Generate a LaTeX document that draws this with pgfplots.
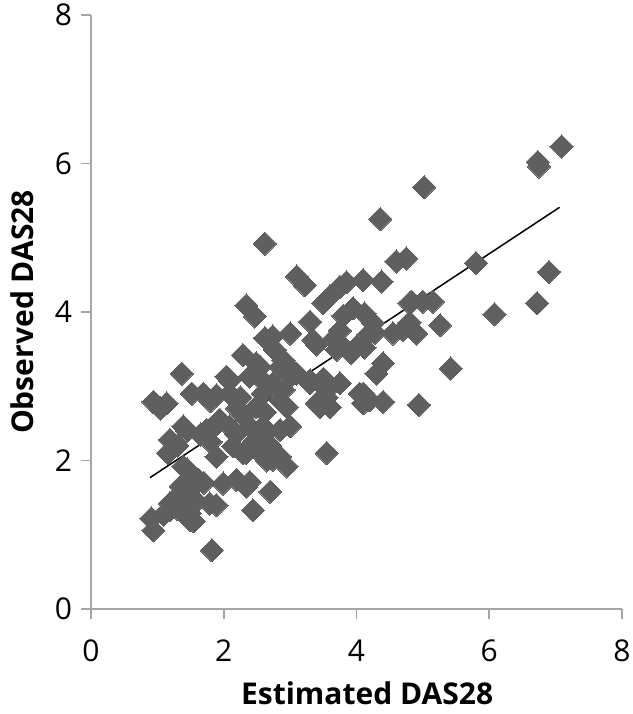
\documentclass[border=0pt]{standalone}
\usepackage{pgfplots}
\pgfplotsset{compat=1.18}
\usepackage{fontspec}
\setmainfont{Open Sans}
\definecolor{markgray}{HTML}{5F5F5F}
\definecolor{axgray}{HTML}{A6A6A6}
\begin{document}
\begin{tikzpicture}
\begin{axis}[
  scale only axis,
  width=265.5pt, height=297pt,
  xmin=0, xmax=8, ymin=0, ymax=8,
  xtick={0,2,4,6,8}, ytick={0,2,4,6,8},
  axis x line*=bottom, axis y line*=left,
  axis line style={axgray, line width=1pt},
  tick style={axgray, line width=0.8pt},
  tick align=outside, major tick length=5pt,
  /pgf/number format/assume math mode=true,
  ticklabel style={font=\fontsize{15}{17}\selectfont, text=black},
  xticklabel style={yshift=-7pt},
  yticklabel style={xshift=-1pt},
  xlabel={Estimated DAS28}, ylabel={Observed DAS28},
  every axis x label/.style={at={(axis description cs:0.52,-0.1414)}, anchor=center,
    font=\fontsize{15}{17}\selectfont\bfseries},
  every axis y label/.style={at={(axis description cs:-0.13,0.5)}, rotate=90, anchor=center,
    font=\fontsize{15}{17}\selectfont\bfseries},
  clip=false,
]
\addplot[only marks, color=markgray, mark=square*, mark size=4.1pt,
  mark options={rotate=45, fill=markgray, draw=markgray, line width=0pt}] coordinates {
(0.94,1.06)(0.91,1.22)(1.09,1.27)(1.19,1.33)(1.19,1.42)(1.25,1.47)(1.30,1.35)
(1.35,1.50)(1.40,1.55)(1.44,1.56)(1.49,1.20)(1.55,1.18)(1.49,1.29)(1.59,1.45)
(1.62,1.74)(1.70,1.70)(1.79,1.42)(1.89,1.40)(1.82,0.79)(1.39,1.92)(1.45,1.88)
(1.55,1.65)(1.35,1.65)
(0.94,2.79)(1.14,2.77)(1.05,2.70)(1.37,3.17)(1.52,2.90)(1.69,2.90)(1.89,2.88)
(1.80,2.80)(1.39,2.46)(1.19,2.28)(1.16,2.10)(1.30,2.20)(1.45,2.40)(1.74,2.41)
(1.94,2.55)(1.85,2.45)(1.80,2.25)(1.89,2.05)(1.65,2.35)
(2.04,3.13)(2.09,3.08)(2.39,3.13)(2.29,3.42)(2.49,3.31)(2.34,4.09)(2.47,3.94)
(2.09,2.90)(2.25,2.85)(2.20,2.70)(2.09,2.46)(2.14,2.19)(2.34,2.10)(2.55,2.14)
(2.19,2.36)(2.39,2.46)(2.59,2.46)(2.30,2.60)(1.99,1.69)(2.19,1.74)(2.39,1.71)
(2.34,1.65)(2.44,1.33)(2.70,1.58)(2.95,1.92)(2.74,2.01)(2.29,2.10)(2.55,2.10)
(2.85,2.41)(3.00,2.46)(2.85,2.05)(2.65,2.00)(2.62,2.65)(2.59,2.90)(2.85,2.81)
(2.49,2.72)(2.95,2.72)(2.62,3.05)(2.62,3.65)(2.74,3.67)(3.00,3.71)(2.55,3.26)
(2.85,3.26)(2.74,3.04)(2.77,3.49)(2.90,3.35)(3.00,3.13)(2.90,2.95)(3.05,3.20)
(2.45,2.25)(2.60,2.35)(2.70,2.20)(2.62,4.92)
(3.10,4.48)(3.22,4.36)(3.30,3.87)(3.40,3.56)(3.30,3.08)(3.55,2.95)(3.40,2.77)
(3.60,2.72)(3.75,3.04)(3.50,3.10)(3.55,2.85)(3.45,2.72)(3.55,2.10)(3.35,3.62)
(3.70,3.49)(4.00,3.53)(3.10,3.17)(3.30,3.04)
(3.75,4.34)(3.60,4.21)(3.50,4.12)(3.85,4.40)(4.10,4.43)(4.38,4.41)(4.36,5.25)
(3.80,3.95)(3.95,4.05)(4.12,3.98)(3.75,3.75)(4.25,3.85)
(3.78,3.55)(4.12,3.52)(4.28,3.72)(3.66,3.64)(4.18,3.70)(3.92,3.45)
(4.10,2.90)(4.20,2.81)(4.40,2.79)(4.05,2.90)(4.10,2.77)(4.40,3.31)(4.30,3.17)
(4.55,3.71)(4.70,3.76)(4.60,4.68)(4.75,4.72)(4.80,4.12)(4.83,4.14)(5.00,4.14)
(5.15,4.14)(4.80,3.86)(4.90,3.71)(5.26,3.82)(5.42,3.24)(4.94,2.75)(5.02,5.68)
(5.80,4.66)(6.08,3.97)(6.90,4.54)(6.72,4.12)(6.73,6.02)(6.75,5.96)(7.09,6.23)
};
\addplot[black, line width=0.75pt, no marks] coordinates {(0.89,1.77)(7.06,5.41)};
\end{axis}
\pgfresetboundingbox
\useasboundingbox (-45.5pt,-52.5pt) rectangle (271pt,304.5pt);
\end{tikzpicture}
\end{document}
